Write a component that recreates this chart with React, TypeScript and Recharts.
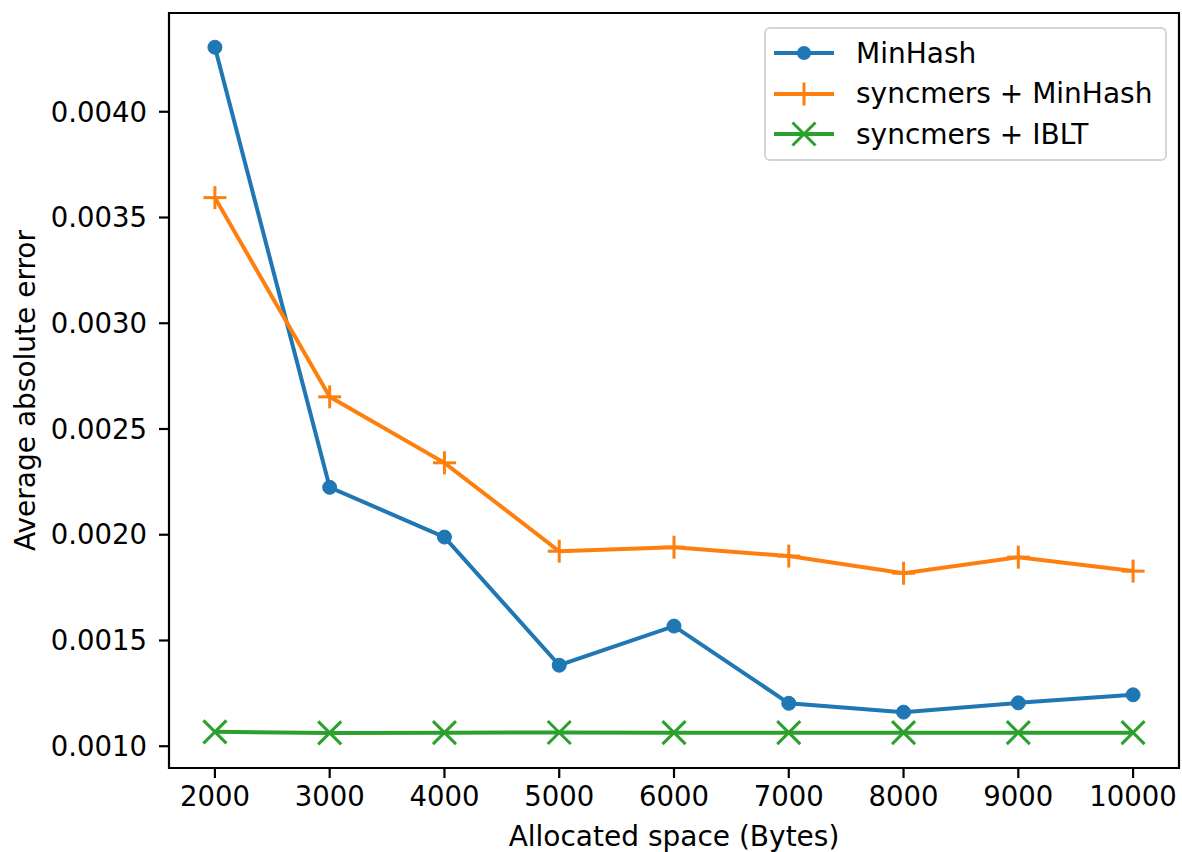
import React from 'react';
import { LineChart, Line, XAxis, YAxis, ReferenceArea } from 'recharts';

const sizes = [2000, 3000, 4000, 5000, 6000, 7000, 8000, 9000, 10000];
const minHash = [0.004305, 0.002224, 0.001989, 0.001383, 0.001568, 0.001203, 0.001161, 0.001205, 0.001243];
const syncMinHash = [0.003594, 0.002652, 0.00234, 0.001922, 0.001941, 0.001899, 0.001818, 0.001894, 0.001828];
const syncIBLT = [0.001068, 0.001063, 0.001064, 0.001065, 0.001064, 0.001064, 0.001064, 0.001064, 0.001064];
const yTicks = [0.001, 0.0015, 0.002, 0.0025, 0.003, 0.0035, 0.004];
const xTicks = [2000, 3000, 4000, 5000, 6000, 7000, 8000, 9000, 10000];
const xDomain = [1600, 10400];
const yDomain = [0.000897, 0.004467];

const BLUE = '#1f77b4';
const ORANGE = '#ff7f0e';
const GREEN = '#2ca02c';
const FONT = '"DejaVu Sans", sans-serif';
const FS = 28;

const data = sizes.map((s, i) => ({ size: s, a: minHash[i], b: syncMinHash[i], c: syncIBLT[i] }));

const CircleDot = (props: any) => {
  const { cx, cy, key } = props;
  if (cx == null || cy == null) return null;
  return <circle key={key} cx={cx} cy={cy} r={7} fill={BLUE} stroke={BLUE} strokeWidth={1} />;
};
const PlusDot = (props: any) => {
  const { cx, cy, key } = props;
  if (cx == null || cy == null) return null;
  const s = 11.5;
  return (
    <g key={key}>
      <line x1={cx - s} y1={cy} x2={cx + s} y2={cy} stroke={ORANGE} strokeWidth={3} />
      <line x1={cx} y1={cy - s} x2={cx} y2={cy + s} stroke={ORANGE} strokeWidth={3} />
    </g>
  );
};
const XDot = (props: any) => {
  const { cx, cy, key } = props;
  if (cx == null || cy == null) return null;
  const s = 11.5;
  return (
    <g key={key}>
      <line x1={cx - s} y1={cy - s} x2={cx + s} y2={cy + s} stroke={GREEN} strokeWidth={3} />
      <line x1={cx - s} y1={cy + s} x2={cx + s} y2={cy - s} stroke={GREEN} strokeWidth={3} />
    </g>
  );
};

const legendItems = [
  { label: 'MinHash', color: BLUE, kind: 'o' },
  { label: 'syncmers + MinHash', color: ORANGE, kind: '+' },
  { label: 'syncmers + IBLT', color: GREEN, kind: 'x' },
];

const LegendBox = () => (
  <div
    style={{
      position: 'absolute',
      left: 764,
      top: 27,
      width: 403,
      height: 134,
      border: '2px solid #d5d5d5',
      borderRadius: 6,
      background: 'rgba(255,255,255,0.8)',
      boxSizing: 'border-box',
    }}
  >
    {legendItems.map((it, i) => (
      <div key={it.label} style={{ position: 'absolute', left: 0, top: 8 + i * 40.5, height: 32, display: 'flex', alignItems: 'center' }}>
        <svg width={90} height={32} style={{ display: 'block' }}>
          <line x1={8} y1={16} x2={68} y2={16} stroke={it.color} strokeWidth={4} />
          {it.kind === 'o' && <circle cx={38} cy={16} r={7} fill={it.color} />}
          {it.kind === '+' && <line x1={38} y1={4.5} x2={38} y2={27.5} stroke={it.color} strokeWidth={3} />}
          {it.kind === 'x' && (
            <g>
              <line x1={26.5} y1={4.5} x2={49.5} y2={27.5} stroke={it.color} strokeWidth={3} />
              <line x1={26.5} y1={27.5} x2={49.5} y2={4.5} stroke={it.color} strokeWidth={3} />
            </g>
          )}
        </svg>
        <span style={{ fontFamily: FONT, fontSize: FS, color: '#000', whiteSpace: 'nowrap' }}>{it.label}</span>
      </div>
    ))}
  </div>
);

const YLabel = (props: any) => {
  const vb = props.viewBox || { x: 0, y: 0, width: 0, height: 0 };
  const cx = 25;
  const cy = vb.y + vb.height / 2;
  return (
    <text
      x={cx}
      y={cy}
      textAnchor="middle"
      dominantBaseline="central"
      transform={`rotate(-90, ${cx}, ${cy})`}
      style={{ fontFamily: FONT, fontSize: FS, fill: '#000' }}
    >
      Average absolute error
    </text>
  );
};

const XLabel = (props: any) => {
  const vb = props.viewBox || { x: 0, y: 0, width: 0, height: 0 };
  const cx = vb.x + vb.width / 2;
  return (
    <text x={cx} y={846} textAnchor="middle" style={{ fontFamily: FONT, fontSize: FS, fill: '#000' }}>
      Allocated space (Bytes)
    </text>
  );
};

const tickStyle = { fontFamily: FONT, fontSize: 27.5, fill: '#000' };

export default function App() {
  return (
    <div style={{ position: 'absolute', left: 0, top: 0, width: 1182, height: 852, background: '#fff' }}>
      <LineChart width={1182} height={852} data={data} margin={{ top: 13, right: 3, left: 0, bottom: 0 }}>
        <XAxis
          dataKey="size"
          type="number"
          domain={xDomain}
          ticks={xTicks}
          allowDataOverflow
          height={84}
          tick={tickStyle}
          tickSize={10}
          tickMargin={8}
          tickLine={{ stroke: '#000', strokeWidth: 2.2 }}
          axisLine={false}
          label={<XLabel />}
        />
        <YAxis
          type="number"
          domain={yDomain}
          ticks={yTicks}
          allowDataOverflow
          width={169}
          tick={tickStyle}
          tickFormatter={(v: number) => v.toFixed(4)}
          tickSize={10}
          tickMargin={12}
          tickLine={{ stroke: '#000', strokeWidth: 2.2 }}
          axisLine={false}
          label={<YLabel />}
        />
        <Line dataKey="a" stroke={BLUE} strokeWidth={4} dot={CircleDot} activeDot={false} isAnimationActive={false} />
        <Line dataKey="b" stroke={ORANGE} strokeWidth={4} dot={PlusDot} activeDot={false} isAnimationActive={false} />
        <Line dataKey="c" stroke={GREEN} strokeWidth={4} dot={XDot} activeDot={false} isAnimationActive={false} />
        <ReferenceArea
          x1={xDomain[0]}
          x2={xDomain[1]}
          y1={yDomain[0]}
          y2={yDomain[1]}
          fill="none"
          fillOpacity={0}
          stroke="#000"
          strokeWidth={2.2}
          ifOverflow="visible"
        />
      </LineChart>
      <LegendBox />
    </div>
  );
}
